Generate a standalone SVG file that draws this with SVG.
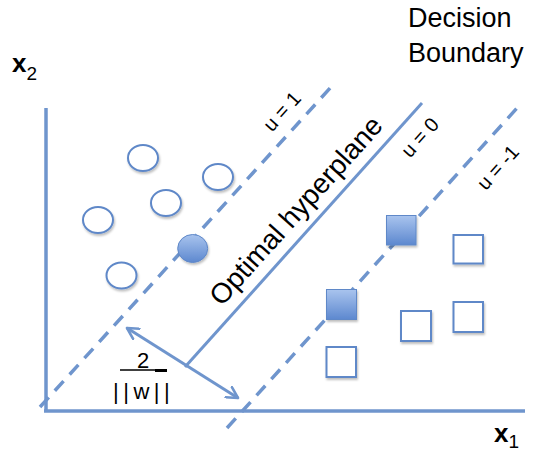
<svg xmlns="http://www.w3.org/2000/svg" width="538" height="453" viewBox="0 0 538 453">
  <style>
    .t { font-family: "Liberation Sans", Arial, sans-serif; fill: #000; }
    .axis { stroke: #6f95cd; stroke-width: 3.5; fill: none; }
    .solid { stroke: #6f95cd; stroke-width: 3; fill: none; }
    .dash { stroke: #6f95cd; stroke-width: 3.5; fill: none; stroke-dasharray: 13 9; }
    .arrow { stroke: #6f95cd; stroke-width: 3; fill: none; }
    .open { fill: #ffffff; stroke: #5f88c8; stroke-width: 2; filter: url(#sh); }
    .filled { fill: url(#g); stroke: #5f88c8; stroke-width: 1; filter: url(#sh); }
  </style>
  <defs>
    <linearGradient id="g" x1="0" y1="0" x2="0" y2="1">
      <stop offset="0" stop-color="#a9c4ee"/>
      <stop offset="1" stop-color="#5d88cf"/>
    </linearGradient>
    <filter id="sh" x="-30%" y="-30%" width="160%" height="160%">
      <feDropShadow dx="1" dy="2" stdDeviation="1.2" flood-color="#000" flood-opacity="0.25"/>
    </filter>
    <marker id="ah" viewBox="0 0 14 14" refX="12" refY="7" markerWidth="14" markerHeight="14" markerUnits="userSpaceOnUse" orient="auto-start-reverse">
      <path d="M1,1 L12,7 L1,13" fill="none" stroke="#6f95cd" stroke-width="2.6" stroke-linecap="round" stroke-linejoin="round"/>
    </marker>
  </defs>

  <g id="connectors">
    <line class="axis" x1="46" y1="108" x2="46" y2="412"/>
    <line class="axis" x1="44" y1="411" x2="525" y2="411"/>
    <line class="dash" x1="40" y1="407" x2="332" y2="86"/>
    <line class="solid" x1="185" y1="367" x2="422" y2="103"/>
    <line class="dash" x1="227" y1="428" x2="518" y2="107"/>
    <line class="arrow" x1="127" y1="328" x2="238" y2="398" marker-start="url(#ah)" marker-end="url(#ah)"/>
  </g>

  <g id="circle-1"><ellipse class="open" cx="143" cy="158" rx="15" ry="13"/></g>
  <g id="circle-2"><ellipse class="open" cx="218" cy="177" rx="15" ry="13"/></g>
  <g id="circle-3"><ellipse class="open" cx="166" cy="203" rx="15" ry="13"/></g>
  <g id="circle-4"><ellipse class="open" cx="98" cy="220" rx="15" ry="13"/></g>
  <g id="circle-5"><ellipse class="open" cx="121.5" cy="275.5" rx="15" ry="13"/></g>
  <g id="circle-sv"><ellipse class="filled" cx="192.7" cy="248.5" rx="15" ry="14"/></g>

  <g id="square-sv-1"><rect class="filled" x="386.5" y="215.5" width="29.5" height="29.5"/></g>
  <g id="square-sv-2"><rect class="filled" x="326.5" y="289.5" width="30" height="30"/></g>
  <g id="square-1"><rect class="open" x="453.5" y="235" width="29.5" height="28.5"/></g>
  <g id="square-2"><rect class="open" x="401" y="311" width="30" height="30"/></g>
  <g id="square-3"><rect class="open" x="453.5" y="302" width="29.5" height="30"/></g>
  <g id="square-4"><rect class="open" x="326.5" y="347" width="29.5" height="30"/></g>

  <g id="labels">
    <text class="t" x="408" y="27" font-size="27">Decision</text>
    <text class="t" x="408" y="62" font-size="27">Boundary</text>
    <text class="t" x="12" y="72" font-size="26" font-weight="bold">x<tspan font-size="19" font-weight="normal" dy="8">2</tspan></text>
    <text class="t" x="494" y="442" font-size="26" font-weight="bold">x<tspan font-size="19" font-weight="normal" dy="6">1</tspan></text>
    <text class="t" font-size="28" text-anchor="middle" transform="translate(303,217) rotate(-48)">Optimal hyperplane</text>
    <text class="t" font-size="20" text-anchor="middle" transform="translate(287,116) rotate(-48)">u = 1</text>
    <text class="t" font-size="20" text-anchor="middle" transform="translate(425,142) rotate(-48)">u = 0</text>
    <text class="t" font-size="20" text-anchor="middle" transform="translate(503,172) rotate(-48)">u = -1</text>
    <text class="t" x="143" y="368" font-size="22" text-anchor="middle">2</text>
    <line x1="120" y1="370" x2="167" y2="370" stroke="#000" stroke-width="1.5"/>
    <line x1="155" y1="370.5" x2="167" y2="370.5" stroke="#000" stroke-width="3"/>
    <text class="t" x="113" y="399" font-size="22" letter-spacing="4.5">||w||</text>
  </g>
</svg>
